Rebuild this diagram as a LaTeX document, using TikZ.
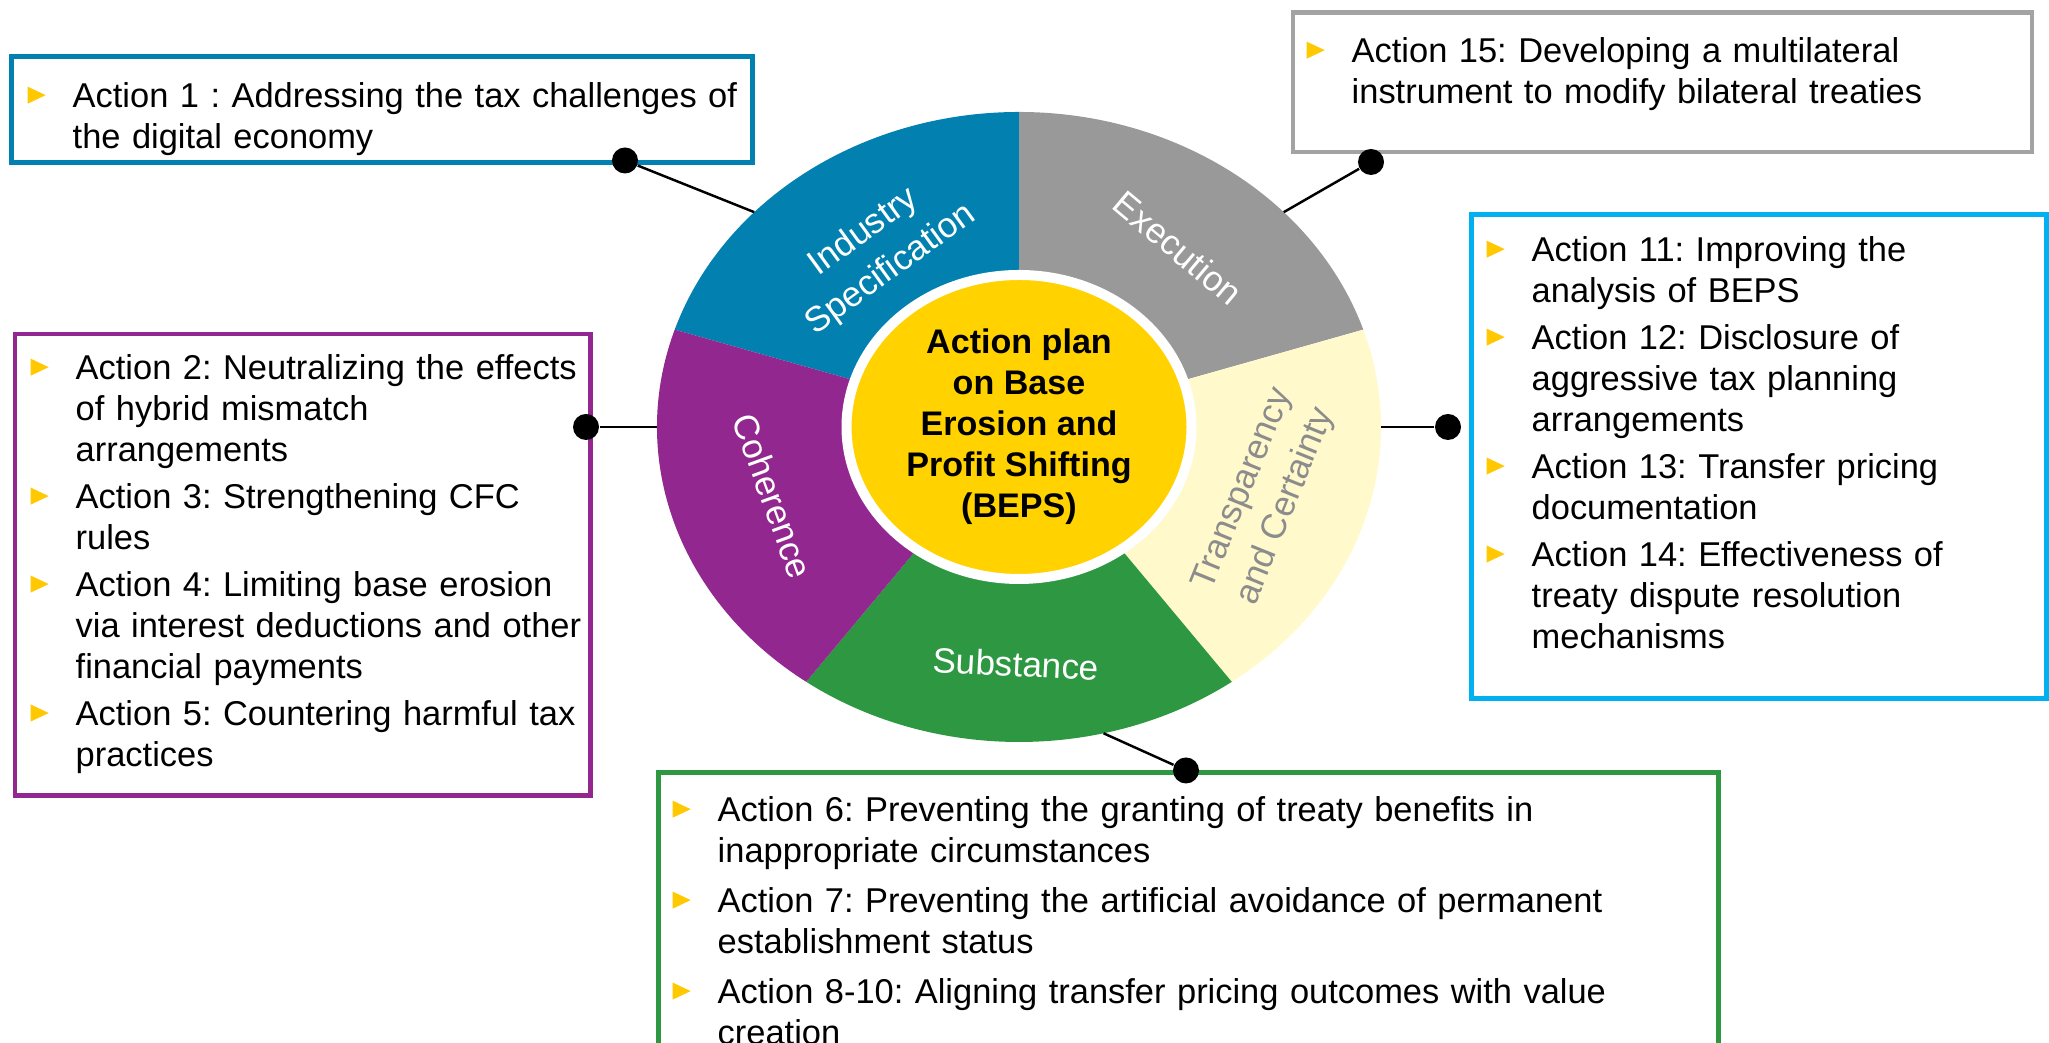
\documentclass[tikz,border=0pt]{standalone}
\usepackage{fontspec}
\setmainfont{Liberation Sans}
\usepackage{tikz}
\usetikzlibrary{positioning,calc,shapes.geometric}
\definecolor{segblue}{HTML}{0281B0}
\definecolor{seggray}{HTML}{999999}
\definecolor{segcream}{HTML}{FFF9CC}
\definecolor{seggreen}{HTML}{2D9841}
\definecolor{segpurple}{HTML}{92288F}
\definecolor{coreyellow}{HTML}{FFD200}
\definecolor{skyblue}{HTML}{00B0F0}
\definecolor{bulyellow}{HTML}{FFC800}
\definecolor{framegray}{HTML}{A3A3A3}
\definecolor{labelgray}{HTML}{8C8C8C}
\frenchspacing
\newcommand{\actfont}{\fontsize{9.8pt}{11.66pt}\selectfont\frenchspacing}
\newcommand{\corefont}{\fontsize{9.7pt}{11.66pt}\selectfont\bfseries}
\newcommand{\segfont}{\fontsize{10pt}{13.2pt}\selectfont}
\newcommand{\bultri}{\tikz[baseline=0pt]\fill[bulyellow] (0,0.04) -- (0,0.21) -- (0.18,0.125) -- cycle;}
% list with hanging bullets: #1 = gap between items, #2 = items
\newcommand{\bullist}[2]{\raggedright\leftskip=0.45cm\parindent=0pt\parskip=#1\relax #2\par}
\newcommand{\bulitem}{\par\noindent\strut\llap{\makebox[0.45cm][l]{\bultri}}}
\tikzset{
    actbox/.style={rectangle,draw,line width=1.3pt,inner sep=0pt,anchor=north west},
    acttext/.style={inner sep=0pt,anchor=north west,font=\actfont},
    seglabel/.style={font=\segfont,text=white,align=center,inner sep=0pt},
    coreblob/.style={ellipse,fill=coreyellow,draw=white,line width=0.1cm,
        minimum width=3.45cm,minimum height=3.04cm,inner sep=0pt,align=center,font=\corefont},
    joint/.style={circle,fill=black,inner sep=0pt,minimum size=0.26cm},
    link/.style={line width=0.7pt}
}
\begin{document}
\begin{tikzpicture}
    \useasboundingbox (0,0) rectangle (20.49,10.43);
    % Wheel
    \begin{scope}[shift={(10.19,6.16)}]
        \fill[segblue] (0,0) -- (90:3.62 and 3.15) arc[start angle=90,end angle=162,x radius=3.62,y radius=3.15] -- cycle;
        \fill[seggray] (0,0) -- (18:3.62 and 3.15) arc[start angle=18,end angle=90,x radius=3.62,y radius=3.15] -- cycle;
        \fill[segcream] (0,0) -- (-54:3.62 and 3.15) arc[start angle=-54,end angle=18,x radius=3.62,y radius=3.15] -- cycle;
        \fill[seggreen] (0,0) -- (-126:3.62 and 3.15) arc[start angle=-126,end angle=-54,x radius=3.62,y radius=3.15] -- cycle;
        \fill[segpurple] (0,0) -- (162:3.62 and 3.15) arc[start angle=162,end angle=234,x radius=3.62,y radius=3.15] -- cycle;
        \coordinate (wdigital) at (137:3.62 and 3.15);
        \coordinate (wmulti) at (43:3.62 and 3.15);
        \coordinate (wtransp) at (0:3.62 and 3.15);
        \coordinate (wcoher) at (180:3.62 and 3.15);
        \coordinate (wsubst) at (-76.5:3.62 and 3.15);
        \node[coreblob] (core) at (0,0) {Action plan\\on Base\\Erosion and\\Profit Shifting\\(BEPS)};
    \end{scope}

    % Segment labels
    \node[seglabel,rotate=36] (lindustry) at (8.775,7.92) {Industry\\Specification};
    \node[seglabel,rotate=-40] (lexecution) at (11.78,7.95) {Execution};
    \node[seglabel,rotate=68,text=labelgray] (ltransp) at (12.65,5.45) {Transparency\\and Certainty};
    \node[seglabel,rotate=-3] (lsubstance) at (10.16,3.79) {Substance};
    \node[seglabel,rotate=-70] (lcoherence) at (7.73,5.47) {Coherence};

    % Action boxes
    \node[actbox,draw=segblue,minimum width=7.41cm,minimum height=1.065cm] (boxdigital) at (0.09,9.89) {};
    \node[actbox,draw=framegray,minimum width=7.39cm,minimum height=1.397cm] (boxmulti) at (12.905,10.33) {};
    \node[actbox,draw=skyblue,minimum width=5.746cm,minimum height=4.84cm] (boxtransp) at (14.694,8.305) {};
    \node[actbox,draw=segpurple,minimum width=5.755cm,minimum height=4.616cm] (boxcoher) at (0.125,7.113) {};
    \node[actbox,draw=seggreen,minimum width=10.6cm,minimum height=2.745cm] (boxsubst) at (6.56,2.725) {};

    \node[acttext,text width=7.2cm] (txtdigital) at (0.27,9.77) {\bullist{0pt}{%
        \bulitem Action 1 : Addressing the tax challenges of\\the digital economy}};
    \node[acttext,text width=7.2cm] (txtmulti) at (13.06,10.22) {\bullist{0pt}{%
        \bulitem Action 15: Developing a multilateral\\instrument to modify bilateral treaties}};
    \node[acttext,text width=5.6cm] (txttransp) at (14.86,8.29) {\bullist{0.06cm}{%
        \bulitem Action 11: Improving the\\analysis of BEPS
        \bulitem Action 12: Disclosure of\\aggressive tax planning\\arrangements
        \bulitem Action 13: Transfer pricing\\documentation
        \bulitem Action 14: Effectiveness of\\treaty dispute resolution\\mechanisms}};
    \node[acttext,text width=5.7cm] (txtcoher) at (0.30,7.11) {\bullist{0.06cm}{%
        \bulitem Action 2: Neutralizing the effects\\of hybrid mismatch\\arrangements
        \bulitem Action 3: Strengthening CFC\\rules
        \bulitem Action 4: Limiting base erosion\\via interest deductions and other\\financial payments
        \bulitem Action 5: Countering harmful tax\\practices}};
    \node[acttext,text width=10.3cm] (txtsubst) at (6.72,2.72) {\bullist{0.09cm}{%
        \bulitem Action 6: Preventing the granting of treaty benefits in\\inappropriate circumstances
        \bulitem Action 7: Preventing the artificial avoidance of permanent\\establishment status
        \bulitem Action 8-10: Aligning transfer pricing outcomes with value\\creation}};

    % Connectors
    \node[joint] (jdigital) at (6.25,8.825) {};
    \node[joint] (jmulti) at (13.71,8.81) {};
    \node[joint] (jtransp) at (14.48,6.16) {};
    \node[joint] (jcoher) at (5.86,6.16) {};
    \node[joint] (jsubst) at (11.86,2.725) {};
    \draw[link] (wdigital) -- (jdigital);
    \draw[link] (wmulti) -- (jmulti);
    \draw[link] (wtransp) -- (jtransp);
    \draw[link] (wcoher) -- (jcoher);
    \draw[link] (wsubst) -- (jsubst);
\end{tikzpicture}
\end{document}
